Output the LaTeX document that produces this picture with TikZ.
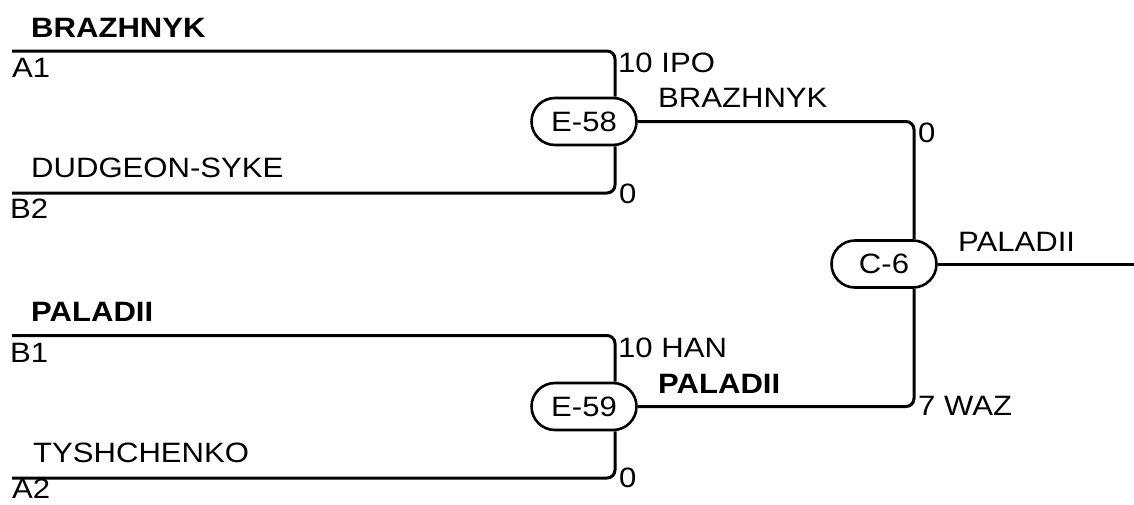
\documentclass[tikz,border=0pt]{standalone}
\usepackage{fontspec}
\setmainfont{Liberation Sans}[FakeStretch=1.11]
\usetikzlibrary{shapes.misc}
\begin{document}
\begin{tikzpicture}[x=1pt,y=-1pt,
  every node/.style={font=\fontsize{28}{33}\selectfont},
  lbl/.style={anchor=base west,inner sep=0pt},
  blbl/.style={lbl,font=\fontsize{28}{33}\selectfont\bfseries},
  match/.style={rounded rectangle,draw,line width=2.6pt,minimum width=105pt,minimum height=47pt,inner sep=0pt},
  conn/.style={line width=3pt,rounded corners=8pt}]
\useasboundingbox (0,0) rectangle (1134,504);
% match nodes
\node[match] (e58) at (584,121.5) {E-58};
\node[match] (e59) at (584,406.5) {E-59};
\node[match] (c6) at (884,264) {C-6};
% free ends
\coordinate (a1) at (12,51);
\coordinate (b2) at (12,193);
\coordinate (b1) at (12,335.5);
\coordinate (a2) at (12,478);
\coordinate (out) at (1134,264);
\coordinate (vx1) at (615,0);
\coordinate (vx2) at (914,0);
% connectors
\draw[conn] (a1) -| (e58.north -| vx1);
\draw[conn] (b2) -| (e58.south -| vx1);
\draw[conn] (b1) -| (e59.north -| vx1);
\draw[conn] (a2) -| (e59.south -| vx1);
\draw[conn] (e58.east) -| (c6.north -| vx2);
\draw[conn] (e59.east) -| (c6.south -| vx2);
\draw[conn] (c6.east) -- (out);
% left labels
\node[blbl] (n1) at (31,37) {BRAZHNYK};
\node[lbl] (s1) at (12,77) {A1};
\node[lbl] (n2) at (31,177) {DUDGEON-SYKE};
\node[lbl] (s2) at (10,218) {B2};
\node[blbl] (n3) at (31,321) {PALADII};
\node[lbl] (s3) at (10,362) {B1};
\node[lbl] (n4) at (33,462) {TYSHCHENKO};
\node[lbl] (s4) at (12,498) {A2};
% score / winner labels
\node[lbl] (sc1) at (618,72) {10 IPO};
\node[lbl] (w1) at (658,107) {BRAZHNYK};
\node[lbl] (sc2) at (619,203) {0};
\node[lbl] (sc3) at (918,142) {0};
\node[lbl] (w3) at (958,251) {PALADII};
\node[lbl] (sc4) at (618,357) {10 HAN};
\node[blbl] (w2) at (658,393) {PALADII};
\node[lbl] (sc5) at (619,487) {0};
\node[lbl] (sc6) at (918,415) {7 WAZ};
\end{tikzpicture}
\end{document}
